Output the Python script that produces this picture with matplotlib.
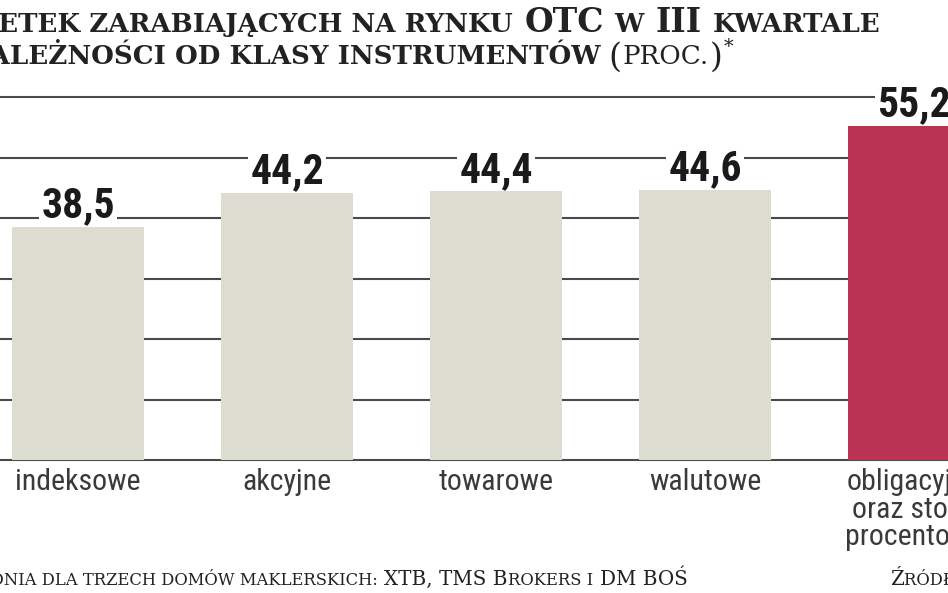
import matplotlib
matplotlib.use("Agg")
import matplotlib.pyplot as plt
import matplotlib.font_manager as fm

# ---------- dane ----------
kategorie = ["indeksowe", "akcyjne", "towarowe", "walutowe", "obligacyjne\noraz stopy\nprocentowe"]
wartosci = [38.5, 44.2, 44.4, 44.6, 55.2]
etykiety = ["38,5", "44,2", "44,4", "44,6", "55,2"]
siatka_y = [0, 10, 20, 30, 40, 50, 60]

# ---------- czcionki ----------
dostepne = {f.name for f in fm.fontManager.ttflist}
waska = next((n for n in ["Liberation Sans Narrow", "Roboto Condensed", "DejaVu Sans"] if n in dostepne), "DejaVu Sans")
szeryf = "DejaVu Serif"

W, H = 948, 593
fig = plt.figure(figsize=(W / 100, H / 100), dpi=100)
ax = fig.add_axes([0, (H - 460) / H, 1, (460 - 97) / H])

szary = "#dcdcd1"
czerwony = "#bb3352"
kolory = [szary] * 4 + [czerwony]

for v in siatka_y:
    ax.axhline(v, color="#4a4a4a", lw=1.5, zorder=1, clip_on=False)

x = list(range(len(kategorie)))
ax.bar(x, wartosci, width=0.635, color=kolory, zorder=2)

# etykiety wartości: białe tło zasłania linie siatki, ale nie słupki
for xi, v, lab in zip(x, wartosci, etykiety):
    ax.annotate(lab, (xi, v), xytext=(0, 7), textcoords="offset points",
                ha="center", va="baseline", fontsize=30, fontweight="bold",
                family=waska, color="#1a1a1a", zorder=1.5,
                bbox=dict(boxstyle="square,pad=0.05", fc="white", ec="none"))

for xi, k in zip(x, kategorie):
    for j, linia in enumerate(k.split("\n")):
        ax.annotate(linia, (xi, 0), xytext=(0, -(30 + 27.5 * j) * 0.72), textcoords="offset points",
                    ha="center", va="baseline", fontsize=21.5, family=waska, color="#3a3a3a")

ax.set_xlim(-0.373, 4.163)
ax.set_ylim(0, 60)
ax.axis("off")

# ---------- tytuł i stopka (kapitaliki z kawałków) ----------
renderer = fig.canvas.get_renderer()


def ciag(kawalki, x_px, y_px, od_prawej=True):
    """kawalki: (tekst, rozmiar, waga, odstep_po_px, przesuniecie_y_px)"""
    kolejnosc = list(reversed(kawalki)) if od_prawej else kawalki
    cx = x_px
    for tekst, rozmiar, waga, odstep, dy in kolejnosc:
        if od_prawej:
            cx -= odstep
        t = fig.text(cx / W, 1 - (y_px - dy) / H, tekst, fontsize=rozmiar, fontweight=waga,
                     family=szeryf, color="#222222", ha="right" if od_prawej else "left",
                     va="baseline")
        szer = t.get_window_extent(renderer).width
        if od_prawej:
            cx -= szer
        else:
            cx += szer + odstep


male, duze = 18.8, 23.8
ciag([("ODSETEK ZARABIAJĄCYCH NA RYNKU", male, "bold", 11, 0),
      ("OTC", duze, "bold", 11, 0),
      ("W", male, "bold", 11, 0),
      ("III", duze, "bold", 11, 0),
      ("KWARTALE", male, "bold", 0, 0)], 880, 32)

ciag([("W ZALEŻNOŚCI OD KLASY INSTRUMENTÓW", male, "bold", 7, 0),
      ("(", 24, "normal", 1, -3),
      ("PROC.", male, "normal", 1, 0),
      (")", 24, "normal", 1, -3),
      ("*", 14, "normal", 0, 12)], 733, 64)

fm_male, fm_duze = 11.8, 14.3
ciag([("*ŚREDNIA DLA TRZECH DOMÓW MAKLERSKICH:", fm_male, "normal", 7, 0),
      ("XTB, TMS B", fm_duze, "normal", 0, 0),
      ("ROKERS I", fm_male, "normal", 7, 0),
      ("DM BOŚ", fm_duze, "normal", 0, 0)], 688, 585)

ciag([("Ź", fm_duze, "normal", 0, 0),
      ("RÓDŁO: DOMY MAKLERSKIE", fm_male, "normal", 0, 0)], 890, 585, od_prawej=False)

fig.savefig("out.png", dpi=100, facecolor="white")
